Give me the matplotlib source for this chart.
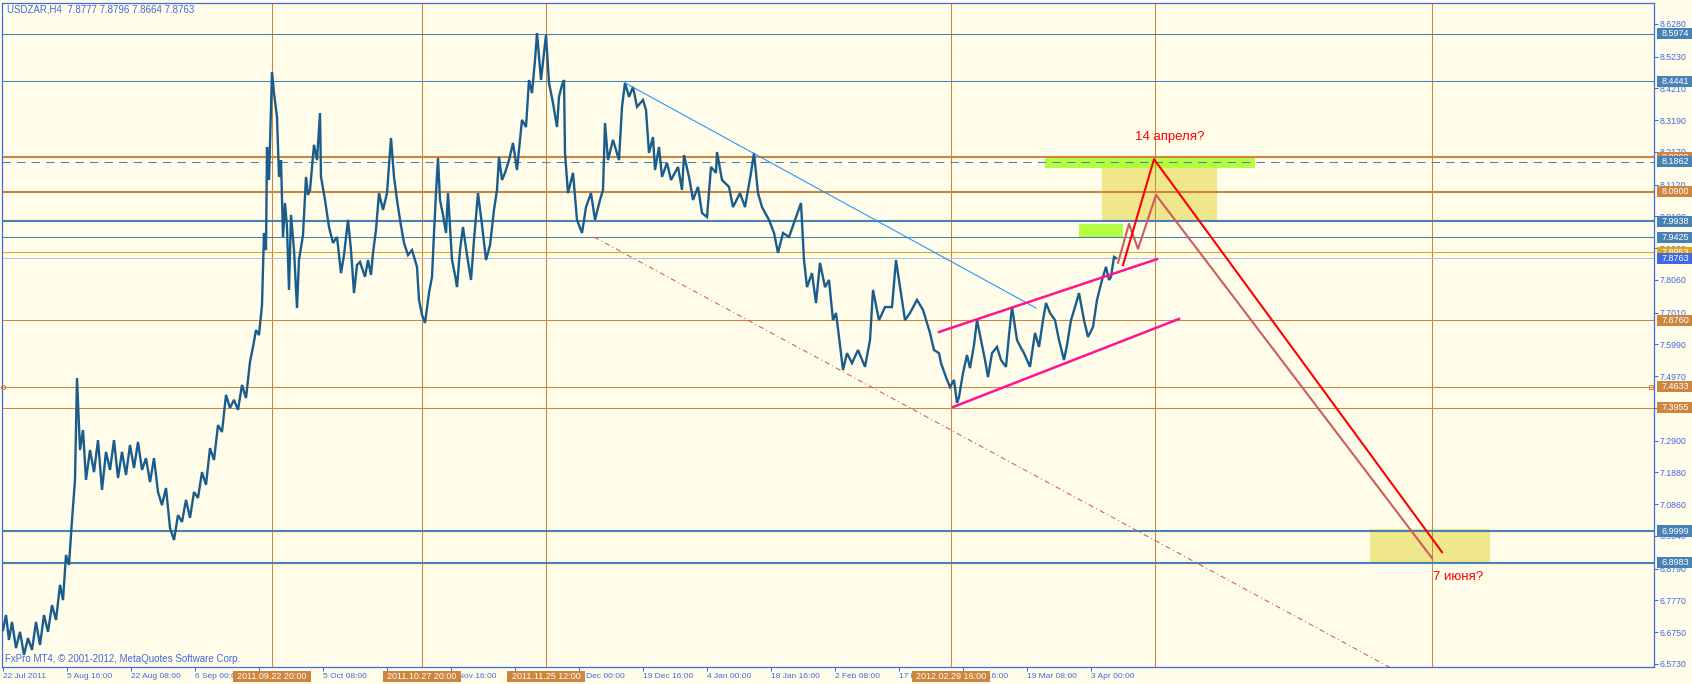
import numpy as np
import matplotlib.pyplot as plt
from matplotlib.patches import Rectangle
import matplotlib.transforms as mtransforms

plt.rcParams['font.family'] = ['Liberation Sans', 'DejaVu Sans']

BG = '#FFFDE9'
BLUE = '#4169E1'
STEEL = '#4682B4'
PERU = '#CD853F'
GOLD = '#DAA520'
LSTEEL = '#B0C4DE'
BARC = '#1A5C8C'

title = 'USDZAR,H4  7.8777 7.8796 7.8664 7.8763'
copyright_text = 'FxPro MT4, \u00a9 2001-2012, MetaQuotes Software Corp.'

# H4 bar number (0 = 22 Jul 2011) and price at the swings of the bar chart
swings = [
    (0, 6.682), (3, 6.730), (6, 6.650), (9, 6.708), (13, 6.624), (17, 6.676), (21, 6.602), (25, 6.656),
    (29, 6.618), (33, 6.708), (37, 6.634), (41, 6.730), (45, 6.676), (49, 6.762), (53, 6.714), (57, 6.827),
    (60, 6.778), (63, 6.923), (66, 6.891), (69, 7.035), (72, 7.164), (74, 7.491), (77, 7.260), (80, 7.324),
    (83, 7.164), (87, 7.260), (91, 7.189), (95, 7.292), (99, 7.132), (103, 7.254), (107, 7.196), (111, 7.292),
    (115, 7.170), (119, 7.254), (123, 7.180), (127, 7.276), (131, 7.202), (135, 7.286), (139, 7.196), (143, 7.234),
    (147, 7.157), (151, 7.234), (155, 7.125), (159, 7.083), (163, 7.138), (167, 7.010), (171, 6.971), (175, 7.051),
    (179, 7.029), (183, 7.100), (187, 7.042), (191, 7.125), (195, 7.106), (199, 7.189), (203, 7.148), (207, 7.266),
    (211, 7.228), (215, 7.340), (219, 7.318), (223, 7.437), (227, 7.395), (231, 7.421), (235, 7.389), (239, 7.469),
    (243, 7.427), (247, 7.543), (250, 7.591), (253, 7.645), (256, 7.629), (259, 7.726), (261, 7.957), (263, 7.902),
    (264, 8.233), (266, 8.127), (269, 8.474), (271, 8.406), (274, 8.329), (276, 8.137), (278, 8.191), (280, 7.944),
    (282, 8.053), (284, 7.976), (286, 7.774), (288, 8.015), (291, 7.902), (294, 7.716), (296, 7.870), (300, 7.950),
    (303, 8.137), (305, 8.079), (307, 8.095), (311, 8.240), (314, 8.191), (317, 8.342), (318, 8.137), (322, 8.063),
    (326, 7.976), (330, 7.925), (334, 7.944), (338, 7.828), (341, 7.886), (345, 7.999), (348, 7.902), (351, 7.764),
    (354, 7.854), (357, 7.864), (362, 7.816), (365, 7.870), (368, 7.822), (370, 7.893), (373, 7.967), (376, 8.085),
    (380, 8.031), (384, 8.085), (388, 8.262), (391, 8.137), (394, 8.063), (397, 7.999), (401, 7.925), (405, 7.886),
    (409, 7.902), (414, 7.848), (416, 7.742), (419, 7.694), (422, 7.668), (426, 7.764), (429, 7.816), (431, 7.957),
    (433, 8.085), (435, 8.198), (437, 8.063), (440, 8.015), (443, 7.957), (445, 8.085), (449, 7.870), (452, 7.822),
    (454, 7.783), (457, 7.902), (460, 7.976), (464, 7.886), (468, 7.806), (471, 7.934), (475, 8.085), (479, 7.983),
    (483, 7.870), (487, 7.918), (491, 8.031), (494, 8.095), (496, 8.201), (499, 8.127), (502, 8.150), (506, 8.191),
    (510, 8.246), (514, 8.159), (517, 8.256), (519, 8.320), (523, 8.297), (526, 8.448), (529, 8.406), (532, 8.512),
    (534, 8.599), (536, 8.522), (538, 8.448), (541, 8.535), (543, 8.593), (546, 8.439), (550, 8.374), (554, 8.297),
    (556, 8.394), (559, 8.432), (561, 8.448), (562, 8.214), (565, 8.085), (570, 8.150), (574, 7.999), (579, 7.957),
    (583, 8.040), (588, 8.085), (592, 7.999), (597, 8.063), (600, 8.095), (602, 8.310), (605, 8.191), (610, 8.256),
    (616, 8.191), (619, 8.362), (622, 8.439), (626, 8.394), (630, 8.426), (634, 8.362), (640, 8.384), (643, 8.352),
    (646, 8.214), (650, 8.265), (652, 8.159), (656, 8.233), (659, 8.137), (664, 8.182), (668, 8.127), (675, 8.169),
    (679, 8.095), (681, 8.207), (686, 8.137), (690, 8.063), (695, 8.105), (699, 8.021), (704, 8.008), (708, 8.169),
    (713, 8.150), (714, 8.217), (719, 8.127), (726, 8.105), (730, 8.040), (737, 8.085), (742, 8.040), (748, 8.150),
    (751, 8.214), (755, 8.085), (759, 8.040), (766, 7.999), (771, 7.957), (775, 7.893), (780, 7.957), (786, 7.944),
    (792, 7.999), (798, 8.053), (801, 7.870), (804, 7.783), (809, 7.828), (813, 7.732), (817, 7.861), (822, 7.783),
    (826, 7.806), (830, 7.677), (833, 7.700), (836, 7.623), (840, 7.517), (844, 7.571), (849, 7.539), (855, 7.581),
    (862, 7.527), (867, 7.613), (870, 7.774), (876, 7.677), (882, 7.719), (889, 7.719), (893, 7.870), (898, 7.764),
    (902, 7.677), (907, 7.700), (914, 7.742), (920, 7.710), (927, 7.636), (931, 7.581), (936, 7.571), (938, 7.539),
    (943, 7.494), (947, 7.462), (951, 7.485), (954, 7.411), (956, 7.430), (960, 7.507), (964, 7.565), (967, 7.523),
    (971, 7.597), (974, 7.677), (978, 7.613), (982, 7.549), (985, 7.494), (989, 7.571), (994, 7.591), (998, 7.549),
    (1003, 7.527), (1006, 7.629), (1009, 7.719), (1014, 7.613), (1018, 7.588), (1021, 7.571), (1027, 7.527), (1032, 7.636),
    (1036, 7.591), (1040, 7.677), (1043, 7.732), (1047, 7.700), (1052, 7.677), (1056, 7.613), (1061, 7.549), (1064, 7.597),
    (1068, 7.677), (1072, 7.719), (1076, 7.764), (1081, 7.677), (1085, 7.623), (1090, 7.655), (1094, 7.742), (1099, 7.806),
    (1103, 7.848), (1106, 7.806), (1108, 7.816), (1111, 7.880), (1113, 7.876),
]

# horizontal levels, with the kind of line that marks each one
levels = [8.5974, 8.4441, 8.2000, 8.1862, 8.0900, 7.9938, 7.9425, 7.8953, 7.8763, 7.6760, 7.4633, 7.3955, 6.9999, 6.8983]
level_kind = ['blue', 'blue', 'orange2', 'dash', 'orange2', 'blue2', 'blue', 'gold', 'bid', 'orange', 'orange', 'orange', 'blue2', 'blue2']
kind_style = {
    'blue': (STEEL, 0.75, '-', STEEL),
    'blue2': (STEEL, 1.5, '-', STEEL),
    'dash': (STEEL, 0.75, (0, (8, 6)), STEEL),
    'orange': (PERU, 0.75, '-', PERU),
    'orange2': (PERU, 1.5, '-', PERU),
    'gold': (GOLD, 0.75, '-', GOLD),
    'bid': (LSTEEL, 0.75, '-', BLUE),
}

# vertical lines (bar numbers) and their date boxes
vline_bars = [269, 419, 543, 948, 1152, 1429]
vline_labels = ['2011.09.22 20:00', '2011.10.27 20:00', '2011.11.25 12:00', '2012.02.29 16:00', '', '']

ytick_values = [8.628, 8.523, 8.421, 8.319, 8.217, 8.112, 8.010, 7.908, 7.806, 7.701, 7.599,
                7.497, 7.395, 7.290, 7.188, 7.086, 6.984, 6.879, 6.777, 6.675, 6.573]
# labels that sit fully under a date box are not visible in the chart
xtick_bars = [0, 64, 128, 192, 256, 320, 384, 448, 512, 576, 640, 704, 768, 832, 896, 960, 1024, 1088]
xtick_labels = ['22 Jul 2011', '5 Aug 16:00', '22 Aug 08:00', '6 Sep 00:00', '', '5 Oct 08:00',
                '', '3 Nov 16:00', '', '5 Dec 00:00', '19 Dec 16:00', '4 Jan 00:00',
                '18 Jan 16:00', '2 Feb 08:00', '17 Feb 00:00', '2 Mar 16:00', '19 Mar 08:00', '3 Apr 00:00']

# drawn objects
trend_blue_x, trend_blue_y = [622, 1033], [8.439, 7.716]
trend_dd_x, trend_dd_y = [591, 1396], [7.944, 6.546]
chan_top_x, chan_top_y = [936, 1154], [7.639, 7.873]
chan_bot_x, chan_bot_y = [950, 1176], [7.398, 7.681]
red_x, red_y = [1120, 1151, 1439], [7.854, 8.194, 6.932]
brown_x, brown_y = [1115, 1126, 1135, 1153, 1429], [7.861, 7.986, 7.906, 8.079, 6.913]
# zones: bar from, bar to, price low, price high
zones_khaki = [(1099, 1214, 7.994, 8.182), (1367, 1487, 6.8983, 7.005)]
zones_green = [(1042, 1252, 8.166, 8.205), (1076, 1120, 7.941, 7.986)]

fig = plt.figure(figsize=(16.92, 6.84), dpi=100, facecolor=BG)
ax = fig.add_axes([2 / 1692, 17 / 684, 1652 / 1692, 664 / 684], facecolor=BG)
ax.set_xlim(-1, 1651)
ax.set_ylim(6.5632, 8.6954)

for x0, x1, lo, hi in zones_khaki:
    ax.add_patch(Rectangle((x0, lo), x1 - x0, hi - lo, facecolor='#F0E68C', edgecolor='none', zorder=1))
for x0, x1, lo, hi in zones_green:
    ax.add_patch(Rectangle((x0, lo), x1 - x0, hi - lo, facecolor='#ADFF2F', edgecolor='none', alpha=0.9, zorder=1.2))

for b in vline_bars:
    ax.axvline(b, color=PERU, lw=0.75, zorder=2)
for p, k in zip(levels, level_kind):
    c, lw, ls, _ = kind_style[k]
    ax.axhline(p, color=c, lw=lw, ls=ls, zorder=2)
ax.plot([0], [7.4633], marker='o', ms=3, mfc='none', mec=PERU, mew=0.7, zorder=3, clip_on=False)
ax.plot([1648], [7.4633], marker='s', ms=3, mfc='none', mec=PERU, mew=0.7, zorder=3, clip_on=False)

bars = [s[0] for s in swings]
price = [s[1] for s in swings]
ax.plot(bars, price, color=BARC, lw=1.7, zorder=3, solid_joinstyle='miter')

ax.plot(trend_blue_x, trend_blue_y, color='#1E90FF', lw=0.75, zorder=4)
ax.plot(trend_dd_x, trend_dd_y, color='#CD5C5C', lw=0.75, ls=(0, (5, 3, 1, 3)), zorder=4)
ax.plot(chan_top_x, chan_top_y, color='#FF1493', lw=1.8, zorder=4)
ax.plot(chan_bot_x, chan_bot_y, color='#FF1493', lw=1.8, zorder=4)
ax.plot(brown_x, brown_y, color='#CD5C5C', lw=1.5, zorder=4)
ax.plot(red_x, red_y, color='#FF0000', lw=1.5, zorder=4.5)

ax.text(1132, 8.265, '14 апреля?', color='#FF0000', fontsize=9.5, va='center', ha='left', zorder=5)
ax.text(1430, 6.852, '7 июня?', color='#FF0000', fontsize=9.5, va='center', ha='left', zorder=5)

# axes and ticks
for sp in ax.spines.values():
    sp.set_color(BLUE)
    sp.set_linewidth(0.9)
ax.yaxis.tick_right()
ax.set_yticks(ytick_values, [f'{v:.4f}' for v in ytick_values])
ax.tick_params(axis='y', direction='out', length=3, width=0.75, colors=BLUE, labelsize=6.3, pad=1)
ax.set_xticks(xtick_bars, xtick_labels)
ax.tick_params(axis='x', direction='out', length=3, width=0.75, colors=BLUE, labelsize=6, pad=1.5)
for lbl in ax.get_xticklabels():
    lbl.set_horizontalalignment('left')

# price boxes on the right edge
W, H = 1652.0, 664.0
ty = mtransforms.blended_transform_factory(ax.transAxes, ax.transData)
zb = 6
for p, k in zip(levels, level_kind):
    box = kind_style[k][3]
    ax.add_patch(Rectangle((1 + 3 / W, p - 0.0177), 38 / W, 0.0354, transform=ty, facecolor=box,
                           edgecolor='none', clip_on=False, zorder=zb))
    ax.text(1 + 21 / W, p, f'{p:.4f}', transform=ty, color='white', fontsize=6.5, ha='center',
            va='center', clip_on=False, zorder=zb + 0.1)
    zb += 0.2

# date boxes under the vertical lines
tx = mtransforms.blended_transform_factory(ax.transData, ax.transAxes)
for b, lab in zip(vline_bars, vline_labels):
    if not lab:
        continue
    ax.add_patch(Rectangle((b - 39, -15 / H), 78, 11 / H, transform=tx, facecolor=PERU,
                           edgecolor='none', clip_on=False, zorder=9))
    ax.text(b, -9.5 / H, lab, transform=tx, color='white', fontsize=6.5, ha='center', va='center',
            clip_on=False, zorder=9.1)

fig.text(7 / 1692, 1 - 10 / 684, title, color=BLUE, fontsize=7, va='center', ha='left')
fig.text(5 / 1692, 1 - 659 / 684, copyright_text, color=BLUE, fontsize=7, va='center', ha='left')

plt.savefig('out.png', dpi=100, facecolor=BG)
plt.close()
